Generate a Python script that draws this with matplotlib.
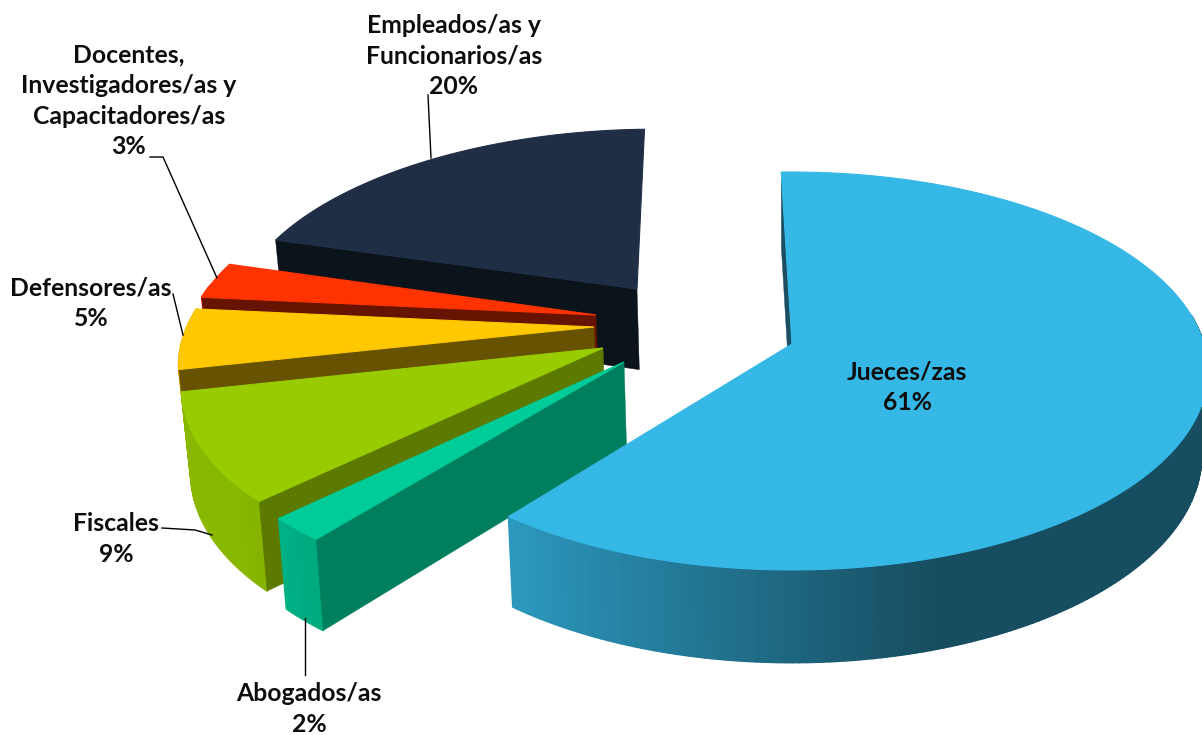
import numpy as np
import matplotlib
matplotlib.use('Agg')
import matplotlib.pyplot as plt
from matplotlib.collections import PolyCollection
from matplotlib.colors import to_rgb

# chart data, clockwise from the top
categories = ['Jueces/zas', 'Abogados/as', 'Fiscales', 'Defensores/as',
              'Docentes,\nInvestigadores/as y\nCapacitadores/as', 'Empleados/as y\nFuncionarios/as']
values = [61, 2, 9, 5, 3, 20]

top_colors = ['#36B8E6', '#00CC99', '#99CC00', '#FFC800', '#FF3300', '#1F2D45']
face_colors = ['#1A4E60', '#007F5F', '#5C7A00', '#665200', '#661400', '#0B131B']

# where each slice tip ends up on the canvas (the explosion)
apex_px = [(792, 344), (624, 362), (603, 348), (594, 327), (596, 315), (637, 289)]
# label centre and leader line per slice
label_px = [(907, 387), (309, 709), (116, 539), (91, 303), (129, 101), (454, 56)]
leaders = [None,
           [(305, 618), (305, 675)],
           [(162, 528), (195, 530), (212, 535)],
           [(173, 294), (183, 335)],
           [(150, 157), (163, 157), (217, 278)],
           [(428, 95), (431, 158)]]

START_ANGLE = -1.7
RADIUS = 412
VX, VY = 792, 344
TILT = 195.3
PERSP = 0.1357
DEPTH = 83
BOTTOM_SCALE = 0.985


def project(wx, wy, bottom=False):
    # wx in pixels, wy in radius units (positive is away from the viewer)
    s = 1 / (1 + PERSP * wy)
    if bottom:
        return VX + BOTTOM_SCALE * wx * s, VY - BOTTOM_SCALE * TILT * wy * s + DEPTH * s
    return VX + wx * s, VY - TILT * wy * s


def unproject(px, py):
    d = VY - py
    wy = d / (TILT - PERSP * d)
    return (px - VX) * (1 + PERSP * wy), wy


def shade(color, theta):
    # side wall gets darker towards the right of the pie
    f = np.clip(0.42 + (0.3 - np.sin(theta)) * 0.45, 0.42, 0.9)
    return tuple(c * f for c in to_rgb(color))


fig = plt.figure(figsize=(12.02, 7.35), dpi=100)
ax = fig.add_axes([0, 0, 1, 1])
ax.set_xlim(0, 1202)
ax.set_ylim(735, 0)
ax.axis('off')

edges = START_ANGLE + np.concatenate([[0], np.cumsum(values)]) * 3.6

# painter's order: back slices first
for i in [5, 4, 3, 2, 1, 0]:
    wx0, wy0 = unproject(*apex_px[i])
    thetas = np.radians(np.linspace(edges[i], edges[i + 1], max(4, int(values[i] * 4))))
    rim_x = wx0 + RADIUS * np.sin(thetas)
    rim_y = wy0 + np.cos(thetas)

    top_rim = [project(x, y) for x, y in zip(rim_x, rim_y)]
    bot_rim = [project(x, y, bottom=True) for x, y in zip(rim_x, rim_y)]
    apex_top = project(wx0, wy0)
    apex_bot = project(wx0, wy0, bottom=True)

    # outer wall as small strips, only the part that faces the viewer
    front = [j for j in range(len(thetas) - 1) if np.cos(thetas[j]) < 0.15]
    quads = [[top_rim[j], top_rim[j + 1], bot_rim[j + 1], bot_rim[j]] for j in front]
    cols = [shade(top_colors[i], thetas[j]) for j in front]
    ax.add_collection(PolyCollection(quads, facecolors=cols, edgecolors=cols, linewidths=1.2, zorder=1))

    # near cut face and the top go over the wall
    ax.fill(*zip(apex_top, top_rim[0], bot_rim[0], apex_bot), color=face_colors[i], lw=0.3, zorder=1)
    ax.fill(*zip(apex_top, *top_rim), color=top_colors[i], lw=0.8, zorder=1)

for line in leaders:
    if line:
        ax.plot(*zip(*line), color='black', lw=1.0, zorder=3)

for name, val, pos in zip(categories, values, label_px):
    ax.text(pos[0], pos[1], f'{name}\n{val}%', ha='center', va='center', family='Lato',
            weight='bold', fontsize=17.8, color='#0D0D0D', linespacing=1.4, zorder=4)

fig.savefig('out.png', dpi=100)
